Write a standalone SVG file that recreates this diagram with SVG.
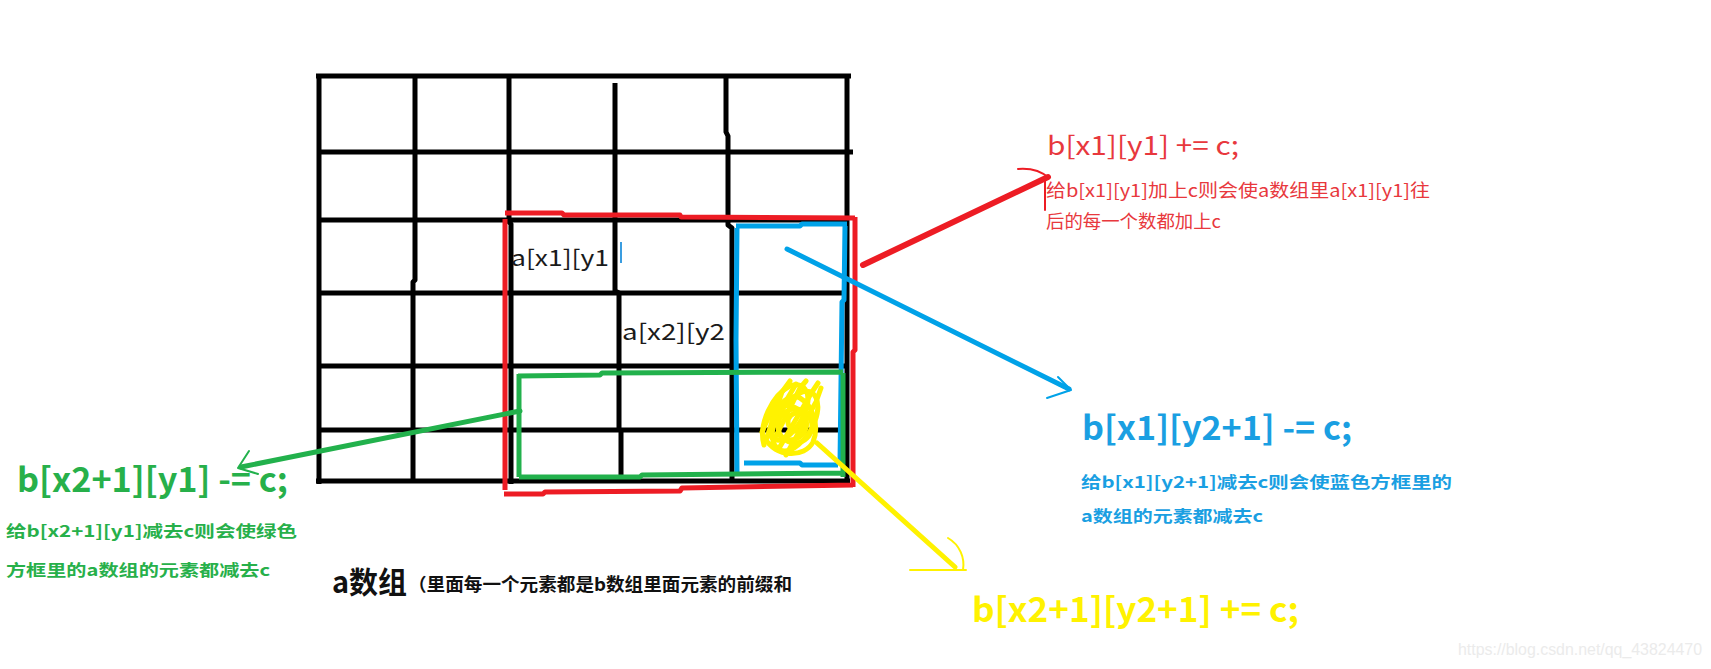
<svg xmlns="http://www.w3.org/2000/svg" width="1711" height="669" viewBox="0 0 1711 669">
<style>
.grid{fill:none;stroke:#000;stroke-width:5;stroke-linejoin:round}
.red{fill:none;stroke:#ED1C24;stroke-width:5;stroke-linejoin:round}
.blue{fill:none;stroke:#00A2E8;stroke-width:5;stroke-linejoin:round}
.green{fill:none;stroke:#22B14C;stroke-width:5;stroke-linejoin:round}
.yellow{fill:none;stroke:#FFF200;stroke-width:5;stroke-linecap:round;stroke-linejoin:round}
.thin{stroke-width:2;fill:none;stroke-linecap:round;stroke-linejoin:round}
text{font-family:"Noto Sans CJK SC","Noto Sans",sans-serif}
.cell{font-size:22px;fill:#1a1a1a}
.rt{fill:#E8383D}
.bt{fill:#1A9FE2;font-weight:bold}
.gt{fill:#27B04A;font-weight:bold}
.yt{fill:#FFF200;font-weight:bold}
.kt{fill:#111;font-weight:bold}
</style>
<rect width="1711" height="669" fill="#fff"/>
<g id="grid">
<path class="grid" d="M316,76 H851 M319,152 H853 M319,220 H849 M319,293 H849 M319,366 H845 M319,430 H845 M316,481 H850"/>
<path class="grid" d="M319,74 V484 M415,76 V280 L413,282 V481 M509,76 V222 L511,224 V484 M615,83 V291 L619,293 V429 L621,431 V481 M726,76 V132 L728,136 V225 L732,228 V481 M847,76 V481"/>
<text class="cell" x="511" y="266" textLength="98" lengthAdjust="spacingAndGlyphs">a[x1][y1</text>
<path d="M621,242 V263" stroke="#3a9de0" stroke-width="2"/>
<text class="cell" x="622" y="340" textLength="103" lengthAdjust="spacingAndGlyphs">a[x2][y2</text>
</g>
<g id="red-box">
<path class="red" d="M505,213 L562,213 L564,215 L680,215 L681,217 L855,218 M855,217 L855,350 L853,352 L853,487 M505,219 V490 M504,494 L543,494 L545,492 L680,491 L682,488 L853,485"/>
</g>
<g id="blue-box">
<path class="blue" d="M736,226 L800,226 L802,224 L847,224 M845,226 L844,300 L842,302 L840,463 M737,228 L736,340 L737,473 M744,463 L800,463 L802,465 L838,465"/>
</g>
<g id="green-box">
<path class="green" d="M518,376 L600,375 L602,373 L843,372 M519,374 V477 M519,477 L640,477 L642,475 L845,473 M843,373 V477"/>
</g>
<g id="scribble">
<path class="yellow" d="M764,445 C758,425 772,395 790,386 C806,380 812,396 805,412 C798,430 782,446 772,438 C765,430 784,402 800,393 C815,386 822,402 815,421 C808,440 790,455 780,450 C768,444 770,420 786,404"/>
<path class="yellow" d="M766,440 L782,392 L790,381 M772,444 L800,388 L806,381 M778,450 L812,392 L818,383 M786,455 L816,402 L821,388 M762,432 L776,400 M770,428 L796,384"/>
<path class="yellow" d="M765,438 C775,458 805,458 813,442 C820,425 812,405 800,398 C788,392 770,410 772,430"/>
<circle cx="797" cy="422" r="9" class="yellow" stroke-width="3"/>
<circle cx="795" cy="426" r="17" class="yellow" stroke-width="3"/>
<path class="yellow" d="M770,415 C780,400 800,404 806,420 C810,436 790,446 780,436" stroke-width="4"/>
</g>
<g id="connectors">
<path d="M863,265 L1048,177" stroke="#ED1C24" stroke-width="6" stroke-linecap="round"/>
<path class="thin" stroke="#ED1C24" d="M1018,169 C1030,168 1040,170 1049,178 M1045,181 V210"/>
<path d="M787,249 L1069,389" stroke="#00A2E8" stroke-width="5" stroke-linecap="round"/>
<path class="thin" stroke="#00A2E8" d="M1058,377 L1071,390 L1047,398"/>
<path d="M520,411 L241,467" stroke="#22B14C" stroke-width="5" stroke-linecap="round"/>
<path class="thin" stroke="#22B14C" d="M249,451 L238,468 L258,474"/>
<path d="M817,443 L955,567" stroke="#FFF200" stroke-width="5" stroke-linecap="round"/>
<path class="thin" stroke="#FFF200" d="M910,570 H966 M948,538 C960,545 965,558 963,570"/>
</g>
<g id="label-red">
<text class="rt" x="1047" y="155" font-size="26" textLength="192" lengthAdjust="spacingAndGlyphs">b[x1][y1] += c;</text>
<text class="rt" x="1046" y="197" font-size="18" textLength="384" lengthAdjust="spacingAndGlyphs">给b[x1][y1]加上c则会使a数组里a[x1][y1]往</text>
<text class="rt" x="1046" y="228" font-size="18" textLength="175" lengthAdjust="spacingAndGlyphs">后的每一个数都加上c</text>
</g>
<g id="label-blue">
<text class="bt" x="1082" y="440" font-size="33" textLength="270" lengthAdjust="spacingAndGlyphs">b[x1][y2+1] -= c;</text>
<text class="bt" x="1081" y="488" font-size="16" textLength="371" lengthAdjust="spacingAndGlyphs">给b[x1][y2+1]减去c则会使蓝色方框里的</text>
<text class="bt" x="1081" y="522" font-size="16" textLength="182" lengthAdjust="spacingAndGlyphs">a数组的元素都减去c</text>
</g>
<g id="label-green">
<text class="gt" x="17" y="492" font-size="34" textLength="271" lengthAdjust="spacingAndGlyphs">b[x2+1][y1] -= c;</text>
<text class="gt" x="6" y="537" font-size="16" textLength="291" lengthAdjust="spacingAndGlyphs">给b[x2+1][y1]减去c则会使绿色</text>
<text class="gt" x="6" y="576" font-size="16" textLength="264" lengthAdjust="spacingAndGlyphs">方框里的a数组的元素都减去c</text>
</g>
<g id="label-yellow">
<text class="yt" x="972" y="622" font-size="34" textLength="327" lengthAdjust="spacingAndGlyphs">b[x2+1][y2+1] += c;</text>
</g>
<g id="label-array">
<text class="kt" x="332" y="593" font-size="30" textLength="75" lengthAdjust="spacingAndGlyphs">a数组</text>
<text class="kt" x="408" y="591" font-size="18" textLength="384" lengthAdjust="spacingAndGlyphs">（里面每一个元素都是b数组里面元素的前缀和</text>
</g>
<text x="1458" y="655" font-size="16" fill="#ebebeb" style="font-family:'Liberation Sans',Arial,sans-serif" textLength="244" lengthAdjust="spacingAndGlyphs">https://blog.csdn.net/qq_43824470</text>
</svg>
